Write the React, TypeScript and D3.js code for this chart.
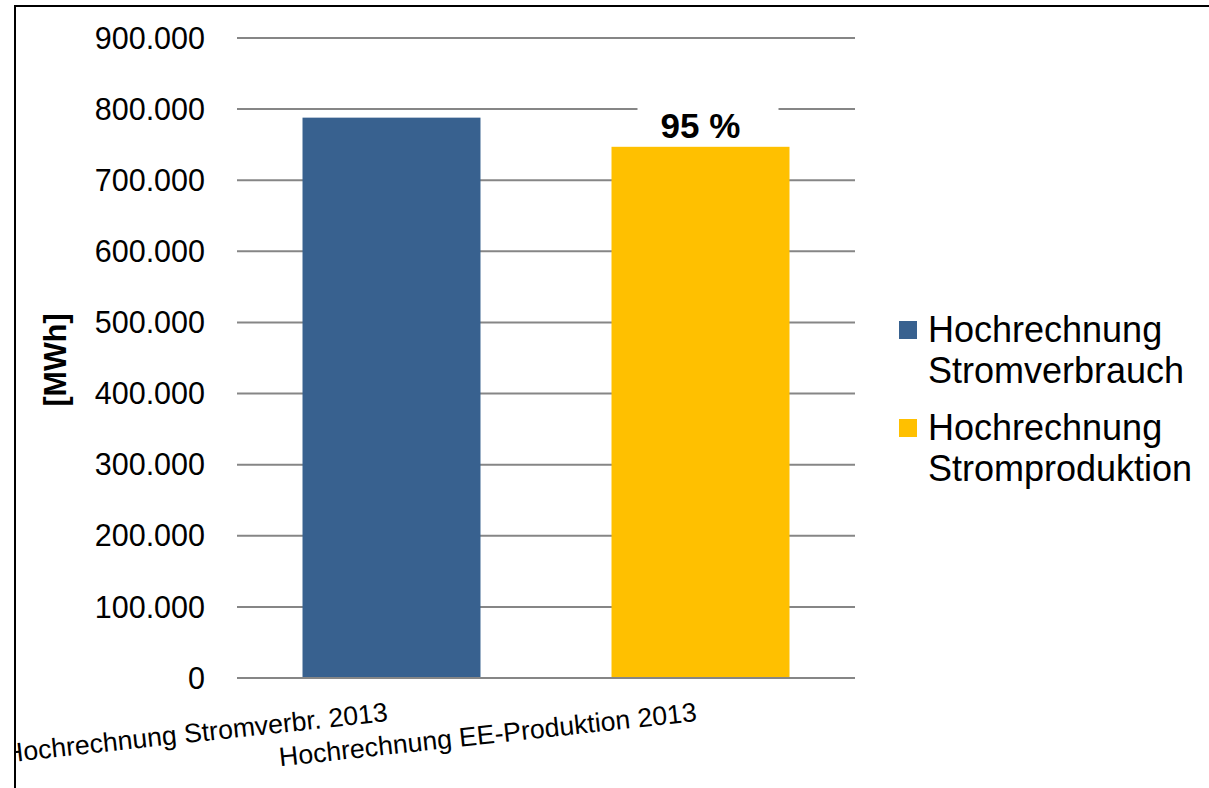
import React from "react";
import * as d3 from "d3";

const categories = ["Hochrechnung Stromverbr. 2013", "Hochrechnung EE-Produktion 2013"];
const values = [788000, 747000];
const barColors = ["#38618F", "#FFC000"];
const seriesNames = [
  ["Hochrechnung", "Stromverbrauch"],
  ["Hochrechnung", "Stromproduktion"],
];
const yTicks = [0, 100000, 200000, 300000, 400000, 500000, 600000, 700000, 800000, 900000];
const percentLabel = "95 %";
const yTitle = "[MWh]";

const W = 1209;
const H = 788;
const FONT = "Arial, 'Liberation Sans', Helvetica, sans-serif";

export default function App() {
  const left = 237, right = 855, top = 38, bottom = 678;
  const x = d3.scaleBand<string>().domain(categories).range([left, right]).paddingInner(0.424).paddingOuter(0.212);
  const y = d3.scaleLinear().domain([0, 900000]).range([bottom, top]);
  const fmt = d3.formatLocale({ decimal: ",", thousands: ".", grouping: [3], currency: ["", "€"] }).format(",.0f");

  const bar2 = categories[1];
  const labelCx = (x(bar2) as number) + x.bandwidth() / 2;
  const labelTop = y(values[1]);

  return (
    <svg width={W} height={H} style={{ position: "absolute", left: 0, top: 0, background: "#fff" }} fontFamily={FONT}>
      <rect x={0} y={0} width={W} height={H} fill="#fff" />
      {/* gridlines */}
      {yTicks.map((t) => (
        <line key={t} x1={left} x2={right} y1={y(t)} y2={y(t)} stroke="#868686" strokeWidth={2} />
      ))}
      {/* tick labels */}
      {yTicks.map((t) => (
        <text key={"l" + t} x={205} y={y(t)} dy="0.35em" textAnchor="end" fontSize={30.5} fill="#000">
          {fmt(t)}
        </text>
      ))}
      {/* bars */}
      {categories.map((c, i) => (
        <rect key={c} x={x(c)} y={y(values[i])} width={x.bandwidth()} height={bottom - y(values[i]) - 1} fill={barColors[i]} />
      ))}
      {/* percent label */}
      <rect x={labelCx - 63} y={labelTop - 44} width={141} height={42} fill="#fff" />
      <text x={labelCx} y={labelTop - 9} textAnchor="middle" fontWeight="bold" fontSize={35} fill="#000">
        {percentLabel}
      </text>
      {/* y title */}
      <text transform={`translate(66,360) rotate(-90)`} textAnchor="middle" fontWeight="bold" fontSize={30.5} fill="#000">
        {yTitle}
      </text>
      {/* x labels */}
      {categories.map((c) => {
        const cx = (x(c) as number) + x.bandwidth() / 2;
        return (
          <text key={"x" + c} transform={`translate(${cx - 3},721) rotate(-6.2)`} textAnchor="end" fontSize={26.7} fill="#000">
            {c}
          </text>
        );
      })}
      {/* legend */}
      {seriesNames.map((lines, i) => (
        <g key={"lg" + i} transform={`translate(0,${i * 98})`}>
          <rect x={899} y={321} width={18} height={18} fill={barColors[i]} />
          {lines.map((ln, j) => (
            <text key={j} x={928} y={342 + j * 41} fontSize={36} fill="#000">
              {ln}
            </text>
          ))}
        </g>
      ))}
      {/* clip outside frame */}
      <rect x={0} y={0} width={14} height={H} fill="#fff" />
      <rect x={0} y={0} width={W} height={5} fill="#fff" />
      {/* frame */}
      <path d={`M15,${H + 5} L15,6 L${W + 5},6`} fill="none" stroke="#000" strokeWidth={2} />
    </svg>
  );
}
